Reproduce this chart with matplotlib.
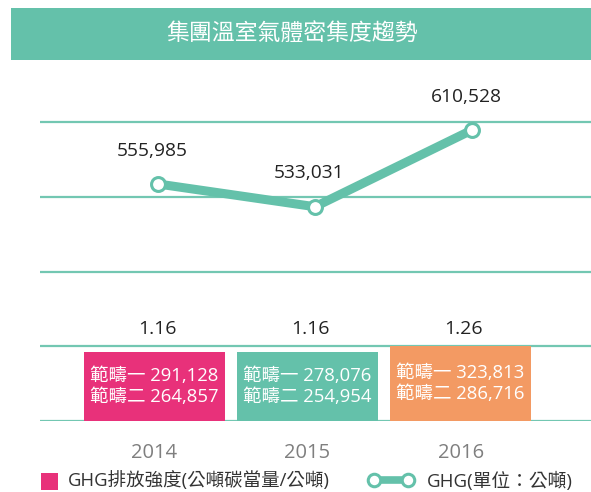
import matplotlib
matplotlib.use("Agg")
import matplotlib.pyplot as plt
from matplotlib.patches import Rectangle
from matplotlib.lines import Line2D

plt.rcParams['font.family'] = ['Open Sans', 'Noto Sans CJK TC', 'DejaVu Sans']

years = ["2014", "2015", "2016"]
intensity = [1.16, 1.16, 1.26]
ghg = [555985, 533031, 610528]
scope1 = [291128, 278076, 323813]
scope2 = [264857, 254954, 286716]
bar_colors = ["#e8317a", "#64c1aa", "#f39a63"]

title = "集團溫室氣體密集度趨勢"
legend_bar = "GHG排放強度(公噸碳當量/公噸)"
legend_line = "GHG(單位：公噸)"

teal = "#64c1aa"
W, H = 591, 492

fig = plt.figure(figsize=(W / 100, H / 100), dpi=100)

# pixel-based helper axes for title band and legend
bg = fig.add_axes([0, 0, 1, 1])
bg.set_xlim(0, W)
bg.set_ylim(H, 0)
bg.axis("off")
bg.add_patch(Rectangle((11, 8), W - 11, 52, color=teal, lw=0))
bg.text(292, 34, title, color="white", fontsize=16.5, ha="center", va="center")

# legend
bg.add_patch(Rectangle((41, 473), 17, 17, color=bar_colors[0], lw=0))
bg.text(68, 481, legend_bar, fontsize=13.3, color="#333333", va="center")
bg.add_line(Line2D([374, 408], [480, 480], color=teal, lw=5.5,
                   marker="o", ms=9, mfc="white", mec=teal, mew=2.2))
bg.text(427, 481, legend_line, fontsize=13.5, color="#333333", va="center")

# bar axes
rect = [40 / W, (H - 421) / H, (W - 40) / W, 321 / H]
ax = fig.add_axes(rect)
ax.set_facecolor("none")
x = range(len(years))
bars = ax.bar(x, intensity, width=0.92, color=bar_colors, zorder=3)
ax.set_xlim(-0.744, 2.851)
ax.set_ylim(0, 321 / 59.8)
ax.set_yticks([0, 1.25, 2.5, 3.75, 5.0])
ax.yaxis.grid(True, color=teal, lw=1.6, alpha=0.9, zorder=0)
ax.set_axisbelow(True)
ax.tick_params(axis="y", left=False, labelleft=False)
ax.tick_params(axis="x", bottom=False, pad=12, labelsize=14.5, labelcolor="#7f7f7f")
ax.set_xticks(list(x))
ax.set_xticklabels(years)
for s in ax.spines.values():
    s.set_visible(False)

for i, b in enumerate(bars):
    cx = b.get_x() + b.get_width() / 2
    ax.text(cx + 0.02, 1.54, f"{intensity[i]:.2f}", ha="center", va="center",
            fontsize=14, color="#222222")
    ax.text(cx, intensity[i] / 2,
            f"範疇一 {scope1[i]:,}\n範疇二 {scope2[i]:,}",
            ha="center", va="center", multialignment="left",
            fontsize=13.3, color="white", linespacing=1.25, zorder=4)

# line axes
ax2 = fig.add_axes(rect)
ax2.set_facecolor("none")
ax2.axis("off")
ax2.set_xlim(-0.752, 2.758)
ax2.set_ylim(316615, 316615 + 321 * 1010)
ax2.plot(x, ghg, color=teal, lw=6.5, solid_capstyle="round",
         marker="o", ms=10, mfc="white", mec=teal, mew=2.2, zorder=5)
for i, v in enumerate(ghg):
    ax2.annotate(f"{v:,}", (i, v), xytext=(-4, 24), textcoords="offset points",
                 ha="center", va="center", fontsize=13.8, color="#222222")

fig.savefig("out.png", dpi=100)
